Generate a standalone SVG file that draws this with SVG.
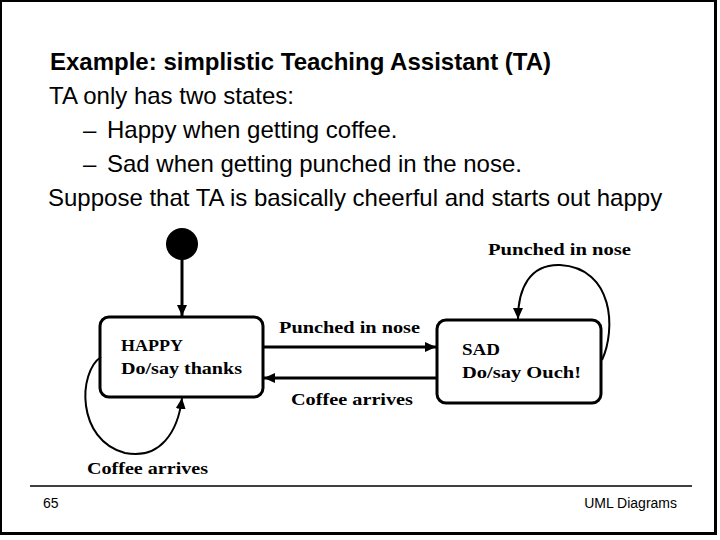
<svg xmlns="http://www.w3.org/2000/svg" width="720" height="540" viewBox="0 0 720 540">
<defs>
<style>
.h{font-family:"Liberation Sans",Arial,sans-serif;font-size:24px;fill:#000}
.hb{font-weight:bold}
.f{font-family:"Liberation Sans",Arial,sans-serif;font-size:14px;fill:#000}
.d{font-family:"Liberation Serif","Times New Roman",serif;font-size:17px;font-weight:bold;fill:#000}
.st{fill:#fff;stroke:#000;stroke-width:3}
.c{fill:none;stroke:#000;stroke-width:3}
.c2{fill:none;stroke:#000;stroke-width:2}
</style>
<marker id="ah" markerUnits="userSpaceOnUse" markerWidth="12" markerHeight="12" refX="11" refY="5" orient="auto" viewBox="0 0 12 10">
<path d="M0,0 L11,5 L0,10 z" fill="#000"/>
</marker>
</defs>
<rect x="0" y="0" width="720" height="540" fill="#fff"/>
<path d="M0,0 H717 V535 H0 Z M2,2 V532 H714 V2 Z" fill="#000" fill-rule="evenodd"/>

<g id="slide-text">
<text class="h hb" x="50" y="70">Example: simplistic Teaching Assistant (TA)</text>
<text class="h" x="49" y="104">TA only has two states:</text>
<text class="h" x="83" y="138">–</text>
<text class="h" x="107" y="138">Happy when getting coffee.</text>
<text class="h" x="83" y="172">–</text>
<text class="h" x="107" y="172">Sad when getting punched in the nose.</text>
<text class="h" x="48" y="206">Suppose that TA is basically cheerful and starts out happy</text>
</g>

<g id="initial">
<circle cx="182" cy="244" r="16" fill="#000"/>
</g>

<g id="happy">
<rect class="st" x="100" y="317" width="163" height="80" rx="9"/>
<text class="d" x="121" y="351" textLength="62" lengthAdjust="spacingAndGlyphs">HAPPY</text>
<text class="d" x="121" y="374" textLength="121" lengthAdjust="spacingAndGlyphs">Do/say thanks</text>
</g>

<g id="sad">
<rect class="st" x="437" y="320" width="164" height="83" rx="9"/>
<text class="d" x="462" y="355" textLength="38" lengthAdjust="spacingAndGlyphs">SAD</text>
<text class="d" x="462" y="378" textLength="119" lengthAdjust="spacingAndGlyphs">Do/say Ouch!</text>
</g>

<g id="connectors">
<line class="c" x1="182" y1="258" x2="182" y2="316" marker-end="url(#ah)"/>
<line class="c" x1="263" y1="347" x2="436" y2="347" marker-end="url(#ah)"/>
<line class="c" x1="436" y1="378" x2="264" y2="378" marker-end="url(#ah)"/>
<path class="c2" d="M602,360 C616,330 614,268 560,265 C530,264 518,288 518,319" marker-end="url(#ah)"/>
<path class="c2" d="M101,357 C78,372 76,440 125,453 C160,460 178,432 182,398" marker-end="url(#ah)"/>
<text class="d" x="279" y="333" textLength="141" lengthAdjust="spacingAndGlyphs">Punched in nose</text>
<text class="d" x="291" y="405" textLength="122" lengthAdjust="spacingAndGlyphs">Coffee arrives</text>
<text class="d" x="488" y="255" textLength="143" lengthAdjust="spacingAndGlyphs">Punched in nose</text>
<text class="d" x="87" y="474" textLength="121" lengthAdjust="spacingAndGlyphs">Coffee arrives</text>
</g>

<g id="footer">
<line x1="30" y1="486" x2="692" y2="486" stroke="#000" stroke-width="1.5"/>
<text class="f" x="43" y="508">65</text>
<text class="f" x="677" y="508" text-anchor="end">UML Diagrams</text>
</g>
</svg>
